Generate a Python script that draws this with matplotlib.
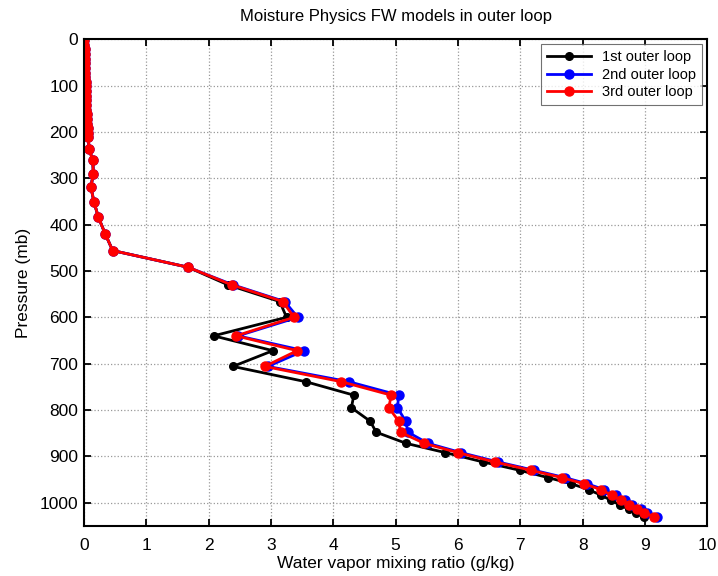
import matplotlib.pyplot as plt

plt.rcParams['font.family'] = ['Liberation Sans', 'DejaVu Sans']

# model levels (mb)
pressure = [2, 12, 22, 32, 42, 52, 62, 72, 82, 92, 102, 112, 122, 132, 142,
            152, 162, 172, 182, 192, 202, 212,
            236, 261, 290, 319, 351, 384, 420, 456, 492,
            530, 566, 600, 640, 672, 706, 739, 768, 795, 824, 848, 872,
            892, 912, 930, 946, 959, 972, 984, 995, 1005, 1014, 1022, 1030]

upper = [0.0, 0.0, 0.01, 0.01, 0.01, 0.02, 0.02, 0.02, 0.02, 0.03, 0.03,
         0.03, 0.03, 0.04, 0.04, 0.04, 0.05, 0.05, 0.05, 0.06, 0.06, 0.07,
         0.08, 0.14, 0.15, 0.11, 0.16, 0.23, 0.34, 0.46, 1.67]

loop1 = upper + [2.31, 3.14, 3.25, 2.08, 3.03, 2.39, 3.56, 4.33, 4.29, 4.59,
                 4.69, 5.17, 5.80, 6.40, 6.99, 7.45, 7.82, 8.10, 8.30, 8.46,
                 8.60, 8.74, 8.86, 8.98]
loop2 = upper + [2.39, 3.22, 3.43, 2.47, 3.53, 2.95, 4.25, 5.05, 5.03, 5.16,
                 5.20, 5.52, 6.05, 6.64, 7.22, 7.72, 8.07, 8.35, 8.53, 8.68,
                 8.80, 8.93, 9.04, 9.20]
loop3 = upper + [2.37, 3.19, 3.37, 2.44, 3.42, 2.90, 4.13, 4.93, 4.89, 5.05,
                 5.08, 5.46, 6.00, 6.59, 7.17, 7.67, 8.02, 8.30, 8.47, 8.62,
                 8.75, 8.88, 8.99, 9.15]

fig = plt.figure(figsize=(7.18, 5.76), dpi=100)
ax = fig.add_axes([0.117, 0.087, 0.868, 0.845])

ax.plot(loop1, pressure, '-o', c='k', lw=2, ms=5.5, label='1st outer loop')
ax.plot(loop2, pressure, '-o', c='b', lw=2, ms=6.5, label='2nd outer loop')
ax.plot(loop3, pressure, '-o', c='r', lw=2, ms=6.5, label='3rd outer loop')

ax.set_xlim(0, 10)
ax.set_ylim(1050, 0)
ax.set_xticks(range(0, 11))
ax.set_yticks(range(0, 1001, 100))
ax.grid(True, ls=':', c='0.6', lw=0.9)
ax.tick_params(direction='in', top=True, right=True, length=5, width=1.3,
               labelsize=12.5)
ax.tick_params(axis='x', pad=9)
ax.tick_params(axis='y', pad=4)
for s in ax.spines.values():
    s.set_linewidth(1.5)

ax.set_title('Moisture Physics FW models in outer loop', fontsize=12, pad=13)
ax.set_xlabel('Water vapor mixing ratio (g/kg)', fontsize=12.5, labelpad=2)
ax.set_ylabel('Pressure (mb)', fontsize=12.5, labelpad=6)
leg = ax.legend(loc='upper right', fontsize=10.5, fancybox=False,
                edgecolor='0.3', borderaxespad=0.35, handlelength=3,
                labelspacing=0.25)
leg.get_frame().set_linewidth(0.8)

fig.savefig('out.png', dpi=100)
